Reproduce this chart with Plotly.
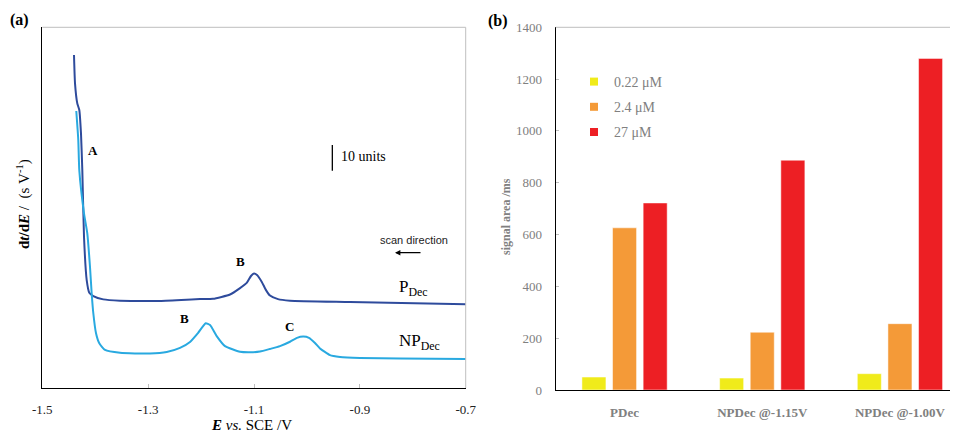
import plotly.graph_objects as go

# ---------------- data: panel (a) ----------------
E_pdec = [-1.4401, -1.4382, -1.4339, -1.4301, -1.4269, -1.4244, -1.4212, -1.4161, -1.4112,
          -1.4036, -1.3847, -1.3532, -1.2776, -1.2020, -1.1775, -1.1453, -1.1264, -1.1138,
          -1.1057, -1.1000, -1.0943, -1.0855, -1.0773, -1.0698, -1.0547, -1.0320, -0.9186, -0.6994]
y_pdec = [129.6, 118.6, 110.8, 108.2, 99.1, 84.8, 58.9, 42.0, 37.1,
          35.8, 34.5, 34.0, 33.9, 34.6, 34.7, 36.4, 38.9, 40.9,
          43.6, 44.6, 44.0, 41.4, 38.1, 36.0, 34.6, 34.0, 33.5, 32.6]

E_npdec = [-1.4358, -1.4320, -1.4301, -1.4212, -1.4150, -1.4099, -1.4067, -1.4036, -1.3985,
           -1.3923, -1.3815, -1.3532, -1.2965, -1.2649, -1.2398, -1.2209, -1.2058, -1.1912,
           -1.1831, -1.1705, -1.1548, -1.1264, -1.1076, -1.0887, -1.0698, -1.0509, -1.0320,
           -1.0188, -1.0068, -0.9961, -0.9848, -0.9753, -0.9564, -0.9375, -0.8997, -0.8241, -0.6994]
y_npdec = [107.8, 96.5, 84.8, 68.0, 60.2, 47.2, 36.8, 29.1, 21.3,
           17.4, 14.8, 13.7, 13.4, 14.0, 15.6, 17.9, 21.4, 25.2,
           24.5, 20.2, 16.3, 14.1, 13.9, 14.2, 15.2, 16.3, 18.0,
           19.5, 20.0, 19.5, 17.5, 15.4, 12.8, 12.1, 11.7, 11.5, 11.3]

E_ticks = [-1.5, -1.3, -1.1, -0.9, -0.7]
E_ticktext = ["-1.5", "-1.3", "-1.1", "-0.9", "-0.7"]

# ---------------- data: panel (b) ----------------
categories = ["PDec", "NPDec @-1.15V", "NPDec @-1.00V"]
series_names = ["0.22 μM", "2.4 μM", "27 μM"]
area_022 = [50, 46, 63]
area_24 = [626, 223, 256]
area_27 = [722, 887, 1280]
y_ticks_b = [0, 200, 400, 600, 800, 1000, 1200, 1400]

# ---------------- layout helpers ----------------
# page body has an 8px margin, so the figure is drawn 8px smaller and coordinates offset by 8
OFF = 8
W, H = 958 - OFF, 435 - OFF
def px(x):
    return (x - OFF) / W
def py(y):
    return 1 - (y - OFF) / H

SERIF = "Liberation Serif"
GREY = "#808080"
NB = "\u00a0"

fig = go.Figure()

# panel (a) curves
fig.add_trace(go.Scatter(x=E_pdec, y=y_pdec, mode="lines", line=dict(color="#2E4B9C", width=2, shape="spline", smoothing=0.5),
                         showlegend=False, xaxis="x", yaxis="y", hoverinfo="skip"))
fig.add_trace(go.Scatter(x=E_npdec, y=y_npdec, mode="lines", line=dict(color="#29A9E0", width=2, shape="spline", smoothing=0.5),
                         showlegend=False, xaxis="x", yaxis="y", hoverinfo="skip"))

# panel (b) bars
bar_colors = ["#F0EB1A", "#F49A38", "#ED1F24"]
for name, vals, col, grp in zip(series_names, [area_022, area_24, area_27], bar_colors, ["g1", "g2", "g3"]):
    fig.add_trace(go.Bar(x=categories, y=vals, name=name, marker=dict(color=col, line=dict(color="rgba(255,255,255,0.5)", width=1)),
                         xaxis="x2", yaxis="y2", showlegend=False))
    fig.add_trace(go.Scatter(x=[None], y=[None], mode="markers", name=name, legendgroup=grp,
                             marker=dict(symbol="square", size=8, color=col),
                             xaxis="x2", yaxis="y2", showlegend=True))

fig.update_layout(
    width=W, height=H,
    margin=dict(l=0, r=0, t=0, b=0, pad=0, autoexpand=False),
    paper_bgcolor="white", plot_bgcolor="white",
    font=dict(family=SERIF, size=13, color="#222"),
    bargap=0.333, bargroupgap=0.215, barmode="group",
    xaxis=dict(domain=[px(42.3), px(465.7)], range=[-1.5, -0.7], tickvals=E_ticks, ticktext=E_ticktext,
               ticks="inside", ticklen=4, tickcolor="#BFBFBF", showgrid=False, zeroline=False, automargin=False,
               showline=True, linecolor="black", linewidth=1.3, ticklabelstandoff=9,
               tickfont=dict(family=SERIF, size=13, color="#222"), anchor="y"),
    yaxis=dict(domain=[py(388), py(27.3)], range=[0, 140.4], showticklabels=False, ticks="", automargin=False,
               showgrid=False, zeroline=False, showline=True, linecolor="black", linewidth=1.3, anchor="x"),
    xaxis2=dict(domain=[px(555.7), 1], range=[-0.5, 2.4216], type="category", showgrid=False, zeroline=False,
                showline=True, linecolor="black", linewidth=1.3, ticks="", ticklabelstandoff=10, automargin=False,
                tickfont=dict(family=SERIF, size=13, color=GREY, weight="bold"), anchor="y2"),
    yaxis2=dict(domain=[py(390), py(27.3)], range=[0, 1400], tickvals=y_ticks_b, showgrid=False, zeroline=False,
                showline=True, linecolor="black", linewidth=1.3, ticks="inside", ticklen=3, tickcolor="#BFBFBF",
                automargin=False,
                ticklabelstandoff=10, tickfont=dict(family=SERIF, size=13, color=GREY), anchor="x2"),
    legend=dict(x=px(574), y=py(66), xanchor="left", yanchor="top", bgcolor="rgba(0,0,0,0)",
                font=dict(family=SERIF, size=14, color=GREY), tracegroupgap=4, traceorder="grouped",
                itemclick=False),
)

# borders (grey top / right)
fig.add_shape(type="line", xref="x domain", yref="y domain", x0=0, x1=1, y0=1, y1=1, line=dict(color="#BFBFBF", width=1))
fig.add_shape(type="line", xref="x domain", yref="y domain", x0=1, x1=1, y0=0, y1=1, line=dict(color="#BFBFBF", width=1))
fig.add_shape(type="line", xref="x2 domain", yref="y2 domain", x0=0, x1=1, y0=1, y1=1, line=dict(color="#BFBFBF", width=1))

# scale bar (10 units)
fig.add_shape(type="line", xref="x", yref="y", x0=-0.952, x1=-0.952, y0=84.6, y1=94.6, line=dict(color="black", width=1.3))

ann = []
def A(text, x, y, size=13, color="black", family=SERIF, xanchor="center", textangle=0, bold=False):
    ann.append(dict(text=text, x=px(x), y=py(y), xref="paper", yref="paper", showarrow=False,
                    font=dict(size=size, color=color, family=family, weight="bold" if bold else "normal"),
                    xanchor=xanchor, yanchor="middle", textangle=textangle))

A("(a)", 19, 20, size=16, bold=True)
A("(b)", 498, 21, size=16, bold=True)
A("10 units", 339, 157, size=14, xanchor="left")
A("scan direction", 414, 240, size=11, family="Liberation Sans", color="#222")
A("A", 92.5, 151, size=13, bold=True)
A("B", 240, 261, size=13, bold=True)
A("B", 184, 318, size=13, bold=True)
A("C", 289, 326, size=13, bold=True)
A("P<sub>Dec</sub>", 397, 288, size=17, xanchor="left")
A("NP<sub>Dec</sub>", 397, 342, size=17, xanchor="left")
A("<b>d<i>t</i>/d<i>E</i></b>" + NB + "/" + NB + NB + "(s" + NB + "V<sup>-1</sup>)", 23, 204, size=15, textangle=-90)
A("<b><i>E</i></b> <i>vs.</i> SCE /V", 252, 425, size=15)
A("signal area /ms", 506, 217, size=12, color=GREY, bold=True, textangle=-90)

# arrow for scan direction
ann.append(dict(x=px(395), y=py(252.7), xref="paper", yref="paper", ax=27, ay=0, text="", showarrow=True,
                arrowhead=2, arrowsize=0.9, arrowwidth=1.2, arrowcolor="black"))

fig.update_layout(annotations=ann)
fig.write_html("out.html")
